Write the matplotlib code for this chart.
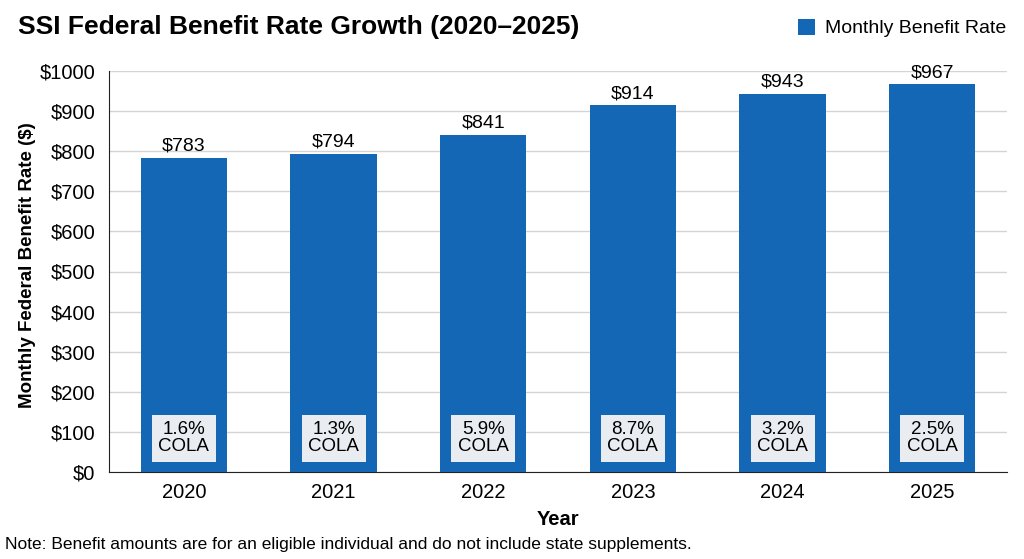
import matplotlib
matplotlib.use("Agg")
import matplotlib.pyplot as plt
from matplotlib.ticker import FuncFormatter

plt.rcParams['font.family'] = ['Liberation Sans', 'DejaVu Sans']

years = ["2020", "2021", "2022", "2023", "2024", "2025"]
benefit = [783, 794, 841, 914, 943, 967]
cola = ["1.6%", "1.3%", "5.9%", "8.7%", "3.2%", "2.5%"]

bar_color = "#1467b5"

fig = plt.figure(figsize=(10.24, 5.59), dpi=100)
ax = fig.add_axes([109/1024, 1-472/559, (1007-109)/1024, (472-71)/559])

x = list(range(len(years)))
bars = ax.bar(x, benefit, width=0.575, color=bar_color, label="Monthly Benefit Rate", zorder=3)

for xi, v, c in zip(x, benefit, cola):
    ax.text(xi, v + 8, f"${v}", ha="center", va="bottom", fontsize=14, zorder=5)
    ax.text(xi, 84, f"{c}\nCOLA", ha="center", va="center", fontsize=13.5, zorder=5,
            linespacing=1.0,
            bbox=dict(boxstyle="square,pad=0.35", facecolor="#e9edf1", edgecolor="none"))

ax.set_xlim(-0.5, 5.5)
ax.set_ylim(0, 1000)
ax.set_yticks(range(0, 1001, 100))
ax.yaxis.set_major_formatter(FuncFormatter(lambda v, p: f"${int(v)}"))
ax.set_xticks(x)
ax.set_xticklabels(years)
ax.tick_params(axis="both", labelsize=14.5, length=0)
ax.tick_params(axis="x", pad=8)
ax.tick_params(axis="y", pad=10)
ax.grid(axis="y", color="#d4d4d4", linewidth=1, zorder=0)
ax.spines["top"].set_visible(False)
ax.spines["right"].set_visible(False)
ax.spines["left"].set_color("#222222")
ax.spines["bottom"].set_color("#222222")

ax.set_xlabel("Year", fontsize=14.5, fontweight="bold", labelpad=6)
ax.set_ylabel("Monthly Federal Benefit Rate ($)", fontsize=13.5, fontweight="bold")
ax.yaxis.set_label_coords((36 - 109) / 898, (472 - 265) / 401)

fig.text(18/1024, 1-27/559, "SSI Federal Benefit Rate Growth (2020\u20132025)", fontsize=19,
         fontweight="bold", ha="left", va="center")
ax.legend(loc="upper right", bbox_to_anchor=(1.008, 1.15), frameon=False, fontsize=14,
          handlelength=0.9, handleheight=0.9, handletextpad=0.5, borderaxespad=0)
fig.text(5/1024, 1-545/559,
         "Note: Benefit amounts are for an eligible individual and do not include state supplements.",
         fontsize=12.5, ha="left", va="center")

fig.savefig("out.png", dpi=100)
